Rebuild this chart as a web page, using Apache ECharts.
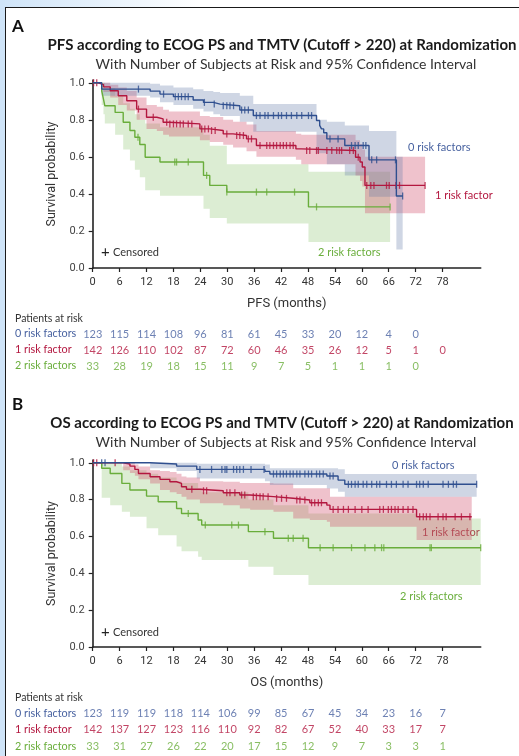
<!DOCTYPE html>
<html>
<head>
<meta charset="utf-8">
<script src="https://cdn.jsdelivr.net/npm/echarts@6/dist/echarts.min.js"></script>
<style>
  html, body { margin: 0; padding: 0; }
  body { width: 519px; height: 756px; overflow: hidden; position: relative;
         background: linear-gradient(to right, #cfe4f8 0px, #e4f0fb 90px, #ffffff 200px); }
  #strip { position: absolute; left: 0; top: 0; width: 5px; height: 756px; background: #cfe4f8; }
  #panel { position: absolute; left: 5px; top: 7px; width: 530px; height: 770px; background: #ffffff;
           border-left: 1.5px solid #1a1a1a; border-top: 1.5px solid #1a1a1a; }
  #chart { position: absolute; left: 0; top: 0; width: 519px; height: 756px; }
</style>
</head>
<body>
<div id="strip"></div>
<div id="panel"></div>
<div id="chart"></div>
<script>
// ---------- shared labels and ticks ----------
const groupNames = ['0 risk factors', '1 risk factor', '2 risk factors'];
const monthTicks = [0, 6, 12, 18, 24, 30, 36, 42, 48, 54, 60, 66, 72, 78];
const survivalTicks = [0, 0.2, 0.4, 0.6, 0.8, 1.0];

// ---------- PFS: Kaplan-Meier steps [month, survival] ----------
const pfsCurve0 = [[0,1],[2,0.966],[12.8,0.955],[15,0.939],[18,0.925],[22.4,0.907],[24.7,0.894],[26.9,0.885],[28.4,0.876],[32.8,0.853],[35.8,0.823],[49.9,0.796],[50.6,0.77],[51,0.751],[51.5,0.73],[52.2,0.697],[56.2,0.661],[61.6,0.584],[67.7,0.389],[69.1,0.389]];
const pfsCurve1 = [[0,1],[1.2,0.99],[2.4,0.978],[3.9,0.957],[5.7,0.93],[7.6,0.903],[9.8,0.858],[12,0.814],[14.3,0.805],[15.7,0.787],[17,0.778],[23.9,0.751],[26.1,0.742],[29.1,0.724],[31.3,0.715],[34.3,0.697],[36.5,0.661],[45.3,0.643],[46.5,0.634],[58.6,0.598],[59.6,0.572],[60.1,0.545],[60.7,0.446],[74.1,0.446]];
const pfsCurve2 = [[0,1],[2,0.957],[2.4,0.912],[2.7,0.876],[5,0.84],[6.8,0.787],[8.3,0.742],[9.4,0.706],[10.5,0.667],[11.7,0.598],[15,0.572],[24.7,0.5],[26.1,0.446],[29.9,0.41],[48.1,0.33],[66.3,0.33]];

// PFS censoring times (months)
const pfsCensor0 = [10.2,15.8,18.4,19.1,19.8,20.6,21.3,24.9,27.1,29.1,29.9,30.6,31.4,33.2,33.9,34.7,36.5,37.3,38.4,39.1,40.3,41.4,42.1,43.2,44.3,45.5,46.6,48.1,48.8,52.9,54.7,57.7,58.5,59.2,60.3,60.9,62.2,63.3,67.5,69.1];
const pfsCensor1 = [0.2,0.9,10.2,13.5,16.5,17.2,18,18.7,19.5,20.2,21.3,22.1,24.3,25,25.8,26.5,27.3,29.9,32.1,32.8,33.6,34.7,35.4,37.3,38.8,39.5,40.3,41,41.8,42.5,43.2,44,44.7,47.7,48.4,49.9,50.3,52.2,53.3,54.4,55,55.5,57.3,58.1,59.2,61.1,62,62.7,65.5,66.1,67.6,68.4,74.1];
const pfsCensor2 = [10.1,18.3,18.7,21.3,25.4,29.9,36.5,38.8,45,49.9,66.3];

// PFS 95% confidence bands [month, lower, upper]
const pfsBand0 = [[0,1,1],[2,0.93,1],[12.8,0.92,0.995],[15,0.895,0.985],[18,0.88,0.975],[22.4,0.86,0.965],[24.7,0.845,0.955],[26.9,0.83,0.95],[28.4,0.82,0.945],[32.8,0.79,0.93],[35.8,0.735,0.885],[49.9,0.62,0.8],[52.2,0.56,0.79],[56.2,0.5,0.77],[61.6,0.385,0.74],[67.7,0.1,0.6],[69.1,0.1,0.6]];
const pfsBand1 = [[0,1,1],[2.4,0.95,1],[3.9,0.92,0.99],[5.7,0.88,0.975],[7.6,0.85,0.955],[9.8,0.8,0.92],[12,0.75,0.88],[14.3,0.74,0.87],[15.7,0.72,0.855],[17,0.71,0.845],[23.9,0.69,0.82],[26.1,0.68,0.815],[29.1,0.665,0.8],[31.3,0.65,0.79],[34.3,0.63,0.775],[36.5,0.6,0.74],[45.3,0.585,0.725],[46.5,0.56,0.72],[58.6,0.5,0.69],[59.6,0.47,0.67],[60.1,0.44,0.64],[60.7,0.295,0.6],[74.1,0.295,0.6]];
const pfsBand2 = [[0,1,1],[2,0.88,1],[2.4,0.83,1],[2.7,0.78,0.97],[5,0.72,0.93],[6.8,0.64,0.89],[8.3,0.58,0.86],[9.4,0.53,0.83],[10.5,0.49,0.8],[11.7,0.42,0.78],[15,0.39,0.76],[24.7,0.32,0.72],[26.1,0.27,0.66],[29.9,0.24,0.56],[48.1,0.14,0.52],[66.3,0.14,0.52]];

// PFS patients at risk at each tick
const pfsRisk0 = [123,115,114,108,96,81,61,45,33,20,12,4,0];
const pfsRisk1 = [142,126,110,102,87,72,60,46,35,26,12,5,1,0];
const pfsRisk2 = [33,28,19,18,15,11,9,7,5,1,1,1,0];

// ---------- OS ----------
const osCurve0 = [[0,1],[12.8,0.993],[18.7,0.982],[23.2,0.964],[38.4,0.953],[39.5,0.939],[52.2,0.928],[54.7,0.906],[56.2,0.883],[85.6,0.883]];
const osCurve1 = [[0,1],[6.8,0.993],[8.3,0.982],[9.4,0.964],[10.2,0.942],[12.8,0.924],[15,0.91],[17.2,0.897],[18.7,0.888],[19.8,0.87],[20.9,0.856],[23.9,0.848],[29.1,0.837],[32.8,0.825],[35.1,0.816],[40.3,0.807],[44.7,0.798],[48.4,0.783],[52.2,0.77],[52.9,0.747],[72.2,0.707],[84.5,0.707]];
const osCurve2 = [[0,1],[2,0.97],[3.9,0.942],[6.5,0.888],[8.3,0.852],[12,0.819],[14.6,0.788],[18.7,0.752],[19.8,0.725],[23.5,0.689],[24.3,0.662],[34.7,0.626],[40.3,0.59],[48.1,0.539],[86.5,0.539]];

const osCensor0 = [2,2.75,23.9,26.5,28.8,29.5,29.9,31.4,32.1,32.8,33.6,35.3,38.2,40.3,41,41.8,42.5,43.2,44,44.7,45.5,46.2,47.3,48.1,48.8,49.9,50.6,51.4,52.9,53.6,57,57.7,58.5,59.2,60.3,61.1,62.2,63.3,64,65.5,66.6,67.7,69.2,70.3,72.2,72.9,73.7,74.8,78.1,79.3,80.4,81.1,85.6];
const osCensor1 = [0.2,0.9,5,22.1,24.7,25.4,29.9,30.6,31.7,33.2,33.9,35.8,36.5,37.3,38,39.1,41,42.1,43.2,45.5,46.2,47.3,48.8,49.5,50.3,51,53.6,54.7,55.9,57,58.5,60,61.4,64,64.8,65.9,66.6,67.4,68.1,69.2,70.3,71.4,72.9,73.7,74.4,75.2,77,78.1,78.8,80.8,82.2,84.1];
const osCensor2 = [21.3,25.1,31,32.5,38.4,43.6,44.7,46.9,50.7,53.6,57.7,60.7,62.9,64.4,64.9,75.2,75.5,86.5];

const osBand0 = [[0,1,1],[12.8,0.97,1],[18.7,0.955,1],[23.2,0.915,0.995],[38.4,0.9,0.99],[39.5,0.879,0.97],[52.2,0.86,0.97],[54.7,0.843,0.965],[56.2,0.816,0.939],[85.6,0.816,0.939]];
const osBand1 = [[0,1,1],[6.8,0.96,1],[8.3,0.945,1],[9.4,0.93,0.99],[10.2,0.91,0.98],[12.8,0.888,0.96],[15,0.852,0.955],[17.2,0.84,0.95],[18.7,0.83,0.94],[19.8,0.816,0.925],[20.9,0.8,0.92],[23.9,0.78,0.9],[29.1,0.77,0.897],[32.8,0.752,0.89],[35.1,0.745,0.89],[40.3,0.734,0.888],[44.7,0.698,0.861],[48.4,0.69,0.861],[52.2,0.68,0.861],[52.9,0.653,0.816],[72.2,0.581,0.816],[84.5,0.581,0.816]];
const osBand2 = [[0,1,1],[2,0.81,1],[3.9,0.77,1],[6.5,0.734,0.98],[8.3,0.707,0.96],[12,0.644,0.94],[14.6,0.607,0.92],[18.7,0.545,0.9],[19.8,0.52,0.89],[23.5,0.49,0.86],[24.3,0.472,0.84],[34.7,0.436,0.8],[40.3,0.391,0.77],[48.1,0.336,0.725],[72.2,0.336,0.698],[86.5,0.336,0.698]];

const osRisk0 = [123,119,119,118,114,106,99,85,67,45,34,23,16,7];
const osRisk1 = [142,137,127,123,116,110,92,82,67,52,40,33,17,7];
const osRisk2 = [33,31,27,26,22,20,17,15,12,9,7,3,3,1];

// ---------- styling ----------
const lineColors = ['#2f4f8f', '#b3173f', '#69ad3b'];
const textColors = ['#4862a0', '#b3173f', '#6aae3c'];
const bandColors = ['rgba(95,120,165,0.30)', 'rgba(205,70,100,0.33)', 'rgba(140,195,110,0.30)'];
const textFont = 'Lato, "Open Sans", sans-serif';
const axisFont = '"Liberation Sans Narrow", Roboto, sans-serif';
const xMax = 86.5;
const yMax = 1.015;

const plotGrids = [
  { left: 92.7, top: 80, width: 388, height: 188 },
  { left: 92.7, top: 460, width: 388, height: 187 }
];
const riskGrids = [
  { left: 92.7, top: 326, width: 388, height: 48 },
  { left: 92.7, top: 705, width: 388, height: 49.5 }
];

// survival value of a step curve at a given time
function survivalAt(curve, t) {
  let s = curve[0][1];
  for (const p of curve) { if (p[0] <= t) s = p[1]; else break; }
  return s;
}

// step-shaped confidence band drawn as one polygon in data coordinates
function bandRenderer(band, color) {
  return function (params, api) {
    if (params.dataIndex !== 0) return null;
    const upper = [], lower = [];
    for (let i = 0; i < band.length; i++) {
      const t0 = band[i][0];
      const t1 = i + 1 < band.length ? band[i + 1][0] : band[i][0];
      upper.push(api.coord([t0, band[i][2]]), api.coord([t1, band[i][2]]));
      lower.push(api.coord([t0, band[i][1]]), api.coord([t1, band[i][1]]));
    }
    const pts = upper.concat(lower.reverse());
    return {
      type: 'polygon', silent: true,
      shape: { points: pts },
      style: { fill: color, stroke: null }
    };
  };
}

const panels = [
  { curves: [pfsCurve0, pfsCurve1, pfsCurve2], censors: [pfsCensor0, pfsCensor1, pfsCensor2],
    bands: [pfsBand0, pfsBand1, pfsBand2], risks: [pfsRisk0, pfsRisk1, pfsRisk2], xName: 'PFS (months)' },
  { curves: [osCurve0, osCurve1, osCurve2], censors: [osCensor0, osCensor1, osCensor2],
    bands: [osBand0, osBand1, osBand2], risks: [osRisk0, osRisk1, osRisk2], xName: 'OS (months)' }
];

const grid = [], xAxis = [], yAxis = [], series = [];

panels.forEach((panel, k) => {
  const pg = grid.length;
  grid.push(plotGrids[k]);
  xAxis.push({
    type: 'value', gridIndex: pg, min: 0, max: xMax,
    name: panel.xName, nameLocation: 'middle', nameGap: 29,
    nameTextStyle: { fontFamily: axisFont, fontSize: 13, color: '#333' },
    axisLine: { lineStyle: { color: '#222', width: 1.6 } },
    axisTick: { customValues: monthTicks, length: 4, lineStyle: { color: '#222', width: 1.2 } },
    axisLabel: { customValues: monthTicks, fontFamily: axisFont, fontSize: 11, color: '#333', margin: 9 },
    splitLine: { show: false }
  });
  yAxis.push({
    type: 'value', gridIndex: pg, min: 0, max: yMax,
    name: 'Survival probability', nameLocation: 'middle', nameGap: 23, nameRotate: 90,
    nameTextStyle: { fontFamily: axisFont, fontSize: 12.5, color: '#333' },
    axisLine: { show: true, lineStyle: { color: '#222', width: 1.6 } },
    axisTick: { show: true, customValues: survivalTicks, length: 4, lineStyle: { color: '#222', width: 1.2 } },
    axisLabel: { customValues: survivalTicks, formatter: v => v.toFixed(1), fontFamily: axisFont,
                 fontSize: 11, color: '#444', margin: 8 },
    splitLine: { show: false }
  });

  // confidence bands
  [2, 1, 0].forEach(g => {
    series.push({
      type: 'custom', xAxisIndex: pg, yAxisIndex: pg, silent: true, clip: true,
      renderItem: bandRenderer(panel.bands[g], bandColors[g]),
      encode: { x: 0, y: [1, 2] },
      data: panel.bands[g]
    });
  });

  // survival curves
  [2, 1, 0].forEach(g => {
    series.push({
      type: 'line', xAxisIndex: pg, yAxisIndex: pg, step: 'end', symbol: 'none', silent: true,
      lineStyle: { color: lineColors[g], width: 1.4 },
      data: panel.curves[g]
    });
  });

  // censoring ticks
  [2, 1, 0].forEach(g => {
    series.push({
      type: 'scatter', xAxisIndex: pg, yAxisIndex: pg, silent: true,
      symbol: 'rect', symbolSize: [1.3, 7],
      itemStyle: { color: lineColors[g] },
      data: panel.censors[g].map(t => [t, survivalAt(panel.curves[g], t)])
    });
  });

  // number-at-risk table
  const rg = grid.length;
  grid.push(riskGrids[k]);
  xAxis.push({ type: 'value', gridIndex: rg, min: 0, max: xMax, show: false });
  yAxis.push({
    type: 'category', gridIndex: rg, inverse: true, data: groupNames,
    axisLine: { show: false }, axisTick: { show: false }, splitLine: { show: false },
    axisLabel: { align: 'left', margin: 77.7, fontFamily: textFont, fontSize: 10.8,
                 color: (v, i) => textColors[i] }
  });
  [0, 1, 2].forEach(g => {
    series.push({
      type: 'scatter', xAxisIndex: rg, yAxisIndex: rg, silent: true,
      symbolSize: 0.1, itemStyle: { color: 'transparent' },
      label: { show: true, position: 'inside', formatter: p => String(p.data[2]),
               fontFamily: textFont, fontSize: 11, color: textColors[g] },
      data: panel.risks[g].map((n, i) => [monthTicks[i], g, n])
    });
  });
});

function txt(x, y, text, opts) {
  return { type: 'text', x: x, y: y, silent: true,
    style: Object.assign({ text: text, fontFamily: textFont, fontSize: 11,
      fill: '#333', textAlign: 'left', textVerticalAlign: 'middle' }, opts || {}) };
}

const titles = [
  { letter: 'A', y0: 0, title: 'PFS according to ECOG PS and TMTV (Cutoff > 220) at Randomization' },
  { letter: 'B', y0: 378, title: 'OS according to ECOG PS and TMTV (Cutoff > 220) at Randomization' }
];
const graphic = [];
titles.forEach(t => {
  graphic.push(txt(12, t.y0 + 27, t.letter, { fontSize: 17, fontWeight: 'bold', fill: '#111' }));
  graphic.push(txt(282, t.y0 + 45, t.title, { fontSize: 15, fontWeight: 'bold', fill: '#1a1a1a', textAlign: 'center' }));
  graphic.push(txt(286, t.y0 + 64, 'With Number of Subjects at Risk and 95% Confidence Interval', { fontSize: 14, fill: '#333', textAlign: 'center' }));
});
// in-plot annotations
graphic.push(txt(101, 252, '+', { fontSize: 15, fill: '#222' }));
graphic.push(txt(113, 252, 'Censored', { fontSize: 11, fill: '#333' }));
graphic.push(txt(101, 632, '+', { fontSize: 15, fill: '#222' }));
graphic.push(txt(113, 632, 'Censored', { fontSize: 11, fill: '#333' }));
graphic.push(txt(408, 147, '0 risk factors', { fill: textColors[0] }));
graphic.push(txt(435, 195, '1 risk factor', { fill: textColors[1] }));
graphic.push(txt(318, 252, '2 risk factors', { fill: textColors[2] }));
graphic.push(txt(392, 465, '0 risk factors', { fill: textColors[0] }));
graphic.push(txt(422, 532, '1 risk factor', { fill: textColors[1] }));
graphic.push(txt(400, 596, '2 risk factors', { fill: textColors[2] }));
graphic.push(txt(15, 319, 'Patients at risk', { fontSize: 10.5, fill: '#333' }));
graphic.push(txt(15, 698, 'Patients at risk', { fontSize: 10.5, fill: '#333' }));

const chart = echarts.init(document.getElementById('chart'), null, { renderer: 'canvas' });
chart.setOption({
  animation: false,
  backgroundColor: 'transparent',
  grid: grid, xAxis: xAxis, yAxis: yAxis, series: series, graphic: graphic
});
</script>
</body>
</html>
